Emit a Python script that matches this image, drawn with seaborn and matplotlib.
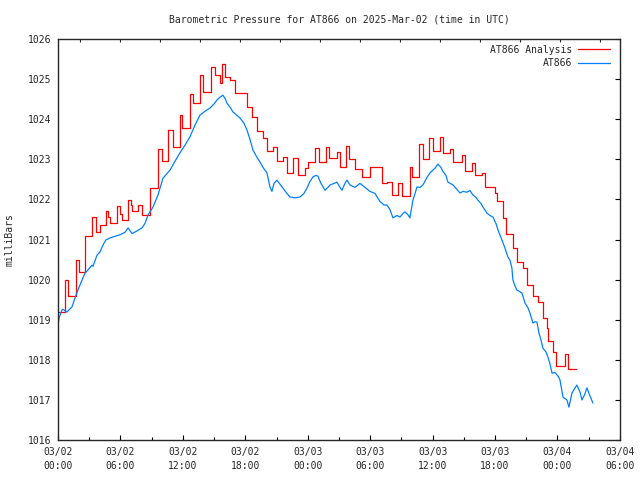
import pandas as pd
import matplotlib
matplotlib.use("Agg")
import matplotlib.pyplot as plt
import matplotlib.dates as mdates
import seaborn as sns

sns.set_style("white")
plt.rcParams['font.family'] = ['DejaVu Sans Mono']

START = pd.Timestamp("2025-03-02 00:00")

# AT866 station observations (hours after 03/02 00:00 UTC, mb)
obs_hours = [0.0, 0.1, 0.38, 0.48, 0.86, 0.96, 1.35, 1.63, 1.92, 2.31, 2.59, 2.88, 3.27, 3.36,
             3.75, 4.04, 4.32, 4.61, 5.0, 5.48, 5.96, 6.44, 6.73, 7.11, 7.5, 8.07, 8.36, 8.65,
             9.13, 9.61, 10.09, 10.76, 11.24, 11.72, 12.2, 12.68, 13.16, 13.64, 14.13, 14.61,
             14.99, 15.28, 15.57, 15.85, 16.05, 16.24, 16.53, 16.82, 17.49, 17.87, 18.16, 18.45,
             18.74, 19.12, 19.41, 19.7, 20.08, 20.37, 20.56, 20.76, 21.04, 21.33, 21.62, 22.0,
             22.29, 22.77, 23.25, 23.64, 23.93, 24.21, 24.5, 24.79, 24.98, 25.27, 25.66, 25.94,
             26.14, 26.52, 26.81, 27.1, 27.29, 27.58, 27.77, 28.06, 28.54, 29.02, 29.5, 29.98,
             30.46, 30.94, 31.33, 31.61, 31.9, 32.19, 32.57, 32.86, 33.15, 33.34, 33.63, 33.82,
             34.11, 34.5, 34.78, 35.07, 35.46, 35.75, 36.23, 36.51, 36.8, 36.99, 37.28, 37.48,
             37.96, 38.34, 38.63, 38.92, 39.3, 39.59, 39.88, 40.17, 40.36, 40.65, 40.84, 41.22,
             41.51, 41.8, 42.09, 42.28, 42.66, 42.95, 43.24, 43.43, 43.62, 43.72, 43.91, 44.1,
             44.58, 44.87, 45.16, 45.35, 45.64, 45.84, 46.03, 46.22, 46.41, 46.6, 46.89, 47.08,
             47.28, 47.47, 47.76, 48.04, 48.24, 48.53, 48.91, 49.1, 49.39, 49.68, 49.87, 50.16,
             50.35, 50.64, 50.83, 51.12, 51.41]
obs_mb = [1018.87, 1019.04, 1019.24, 1019.26, 1019.19, 1019.22, 1019.32, 1019.54, 1019.74, 1019.99,
          1020.16, 1020.24, 1020.36, 1020.33, 1020.61, 1020.69, 1020.86, 1020.99, 1021.04, 1021.08,
          1021.12, 1021.18, 1021.29, 1021.15, 1021.2, 1021.29, 1021.4, 1021.61, 1021.81, 1022.11,
          1022.53, 1022.73, 1022.95, 1023.16, 1023.35, 1023.56, 1023.85, 1024.1, 1024.2, 1024.28,
          1024.38, 1024.48, 1024.55, 1024.6, 1024.52, 1024.4, 1024.3, 1024.18, 1024.03, 1023.9,
          1023.73, 1023.5, 1023.23, 1023.05, 1022.93, 1022.8, 1022.66, 1022.31, 1022.2, 1022.4,
          1022.48, 1022.38, 1022.28, 1022.15, 1022.06, 1022.04, 1022.06, 1022.15, 1022.28, 1022.45,
          1022.56, 1022.6, 1022.58, 1022.4, 1022.23, 1022.3, 1022.36, 1022.4, 1022.43, 1022.3,
          1022.23, 1022.4, 1022.48, 1022.36, 1022.3, 1022.4, 1022.3, 1022.2, 1022.15, 1021.95,
          1021.86, 1021.86, 1021.75, 1021.54, 1021.6, 1021.56, 1021.65, 1021.69, 1021.62, 1021.54,
          1021.98, 1022.31, 1022.3, 1022.36, 1022.55, 1022.66, 1022.78, 1022.88, 1022.8, 1022.7,
          1022.6, 1022.43, 1022.36, 1022.25, 1022.16, 1022.2, 1022.18, 1022.22, 1022.11, 1022.05,
          1021.98, 1021.9, 1021.81, 1021.66, 1021.6, 1021.56, 1021.4, 1021.24, 1020.99, 1020.79,
          1020.56, 1020.49, 1020.29, 1019.99, 1019.85, 1019.74, 1019.67, 1019.42, 1019.3, 1019.17,
          1018.92, 1018.95, 1018.94, 1018.67, 1018.5, 1018.29, 1018.2, 1018.07, 1017.9, 1017.67,
          1017.68, 1017.6, 1017.5, 1017.07, 1017.0, 1016.82, 1017.17, 1017.3, 1017.37, 1017.2,
          1017.0, 1017.15, 1017.3, 1017.1, 1016.92]

# AT866 analysis (step values, start hour of each step)
ana_hours = [0.0, 0.67, 0.96, 1.73, 2.02, 2.59, 3.27, 3.65, 4.04, 4.61, 4.8, 5.0, 5.67, 5.96,
             6.15, 6.73, 7.01, 7.11, 7.69, 8.07, 8.84, 9.61, 9.99, 10.57, 11.05, 11.72, 11.92,
             12.68, 12.97, 13.64, 13.93, 14.7, 15.09, 15.57, 15.76, 16.05, 16.53, 17.01, 18.16,
             18.64, 19.12, 19.7, 20.08, 20.66, 21.04, 21.62, 22.0, 22.58, 23.06, 23.73, 24.02,
             24.69, 25.08, 25.75, 26.04, 26.81, 27.1, 27.67, 27.96, 28.54, 29.21, 29.98, 31.13,
             31.61, 32.09, 32.67, 33.05, 33.82, 34.02, 34.69, 35.07, 35.65, 36.03, 36.71, 36.99,
             37.67, 37.96, 38.82, 39.11, 39.78, 40.07, 40.74, 41.03, 41.99, 42.18, 42.76, 43.05,
             43.72, 44.1, 44.68, 45.07, 45.64, 46.12, 46.6, 46.99, 47.08, 47.56, 47.85, 48.72,
             49.0]
ana_mb = [1019.19, 1020.0, 1019.6, 1020.5, 1020.2, 1021.1, 1021.55, 1021.2, 1021.36, 1021.71,
          1021.56, 1021.41, 1021.84, 1021.64, 1021.49, 1021.99, 1021.85, 1021.71, 1021.86, 1021.61,
          1022.28, 1023.26, 1022.96, 1023.73, 1023.31, 1024.1, 1023.78, 1024.63, 1024.4, 1025.1,
          1024.68, 1025.3, 1025.1, 1024.9, 1025.38, 1025.05, 1024.98, 1024.65, 1024.3, 1024.05,
          1023.7, 1023.53, 1023.2, 1023.31, 1022.96, 1023.06, 1022.66, 1023.03, 1022.61, 1022.78,
          1022.93, 1023.28, 1022.93, 1023.31, 1023.03, 1023.18, 1022.81, 1023.33, 1023.0, 1022.75,
          1022.55, 1022.8, 1022.41, 1022.43, 1022.11, 1022.41, 1022.08, 1022.81, 1022.56, 1023.38,
          1023.0, 1023.53, 1023.2, 1023.56, 1023.16, 1023.26, 1022.93, 1023.11, 1022.71, 1022.91,
          1022.61, 1022.66, 1022.31, 1022.16, 1021.96, 1021.54, 1021.14, 1020.79, 1020.44, 1020.29,
          1019.87, 1019.59, 1019.44, 1019.04, 1018.79, 1018.47, 1018.19, 1017.85, 1018.14, 1017.77]
ana_end_hour = 49.77

y_ticks = [1016, 1017, 1018, 1019, 1020, 1021, 1022, 1023, 1024, 1025, 1026]

obs = pd.DataFrame({"time": START + pd.to_timedelta(obs_hours, unit="h"), "mb": obs_mb})
ana = pd.DataFrame({"time": START + pd.to_timedelta(ana_hours + [ana_end_hour], unit="h"),
                    "mb": ana_mb + [ana_mb[-1]]})

fig = plt.figure(figsize=(6.4, 4.8), dpi=100)
ax = fig.add_axes([0.0906, 0.0833, 0.878, 0.8354])

sns.lineplot(data=ana, x="time", y="mb", ax=ax, color="#ff0000", lw=0.9,
             drawstyle="steps-post", estimator=None, sort=False, label="AT866 Analysis")
sns.lineplot(data=obs, x="time", y="mb", ax=ax, color="#0080ff", lw=0.9,
             estimator=None, sort=False, label="AT866")

ax.set_xlim(START, START + pd.Timedelta(hours=54))
ax.set_ylim(1016, 1026)
ax.set_yticks(y_ticks)
ax.xaxis.set_major_locator(mdates.HourLocator(byhour=[0, 6, 12, 18]))
ax.xaxis.set_minor_locator(mdates.HourLocator(byhour=[3, 9, 15, 21]))
ax.xaxis.set_major_formatter(mdates.DateFormatter("%m/%d\n%H:%M"))
ax.tick_params(which="both", direction="in", right=True, labelsize=7, color="black", width=0.8)
ax.tick_params(which="major", length=3.5, pad=5)
ax.tick_params(which="minor", length=2)
for s in ax.spines.values():
    s.set_color("black")
    s.set_linewidth(0.9)

# top border ticks
ax2 = ax.twiny()
ax2.set_xlim(ax.get_xlim())
top_hours = [2.1 + 50.0 / 13 * i for i in range(14)]
ax2.set_xticks([mdates.date2num(START + pd.Timedelta(hours=h)) for h in top_hours])
ax2.tick_params(direction="in", length=2, width=0.8, labeltop=False)

ax.set_xlabel("")
ax.set_ylabel("milliBars", fontsize=7)
ax.yaxis.set_label_coords(-0.077, 0.5)
ax.set_title("Barometric Pressure for AT866 on 2025-Mar-02 (time in UTC)", fontsize=7, pad=12)

leg = ax.legend(loc="upper right", bbox_to_anchor=(0.998, 1.008), frameon=False, fontsize=7,
                markerfirst=False, handlelength=3.3, handletextpad=0.6, labelspacing=0.35)
for col in leg._legend_handle_box.get_children():
    col.align = "right"

for lab in ax.get_xticklabels():
    lab.set_linespacing(1.55)

fig.savefig("out.png", dpi=100)
